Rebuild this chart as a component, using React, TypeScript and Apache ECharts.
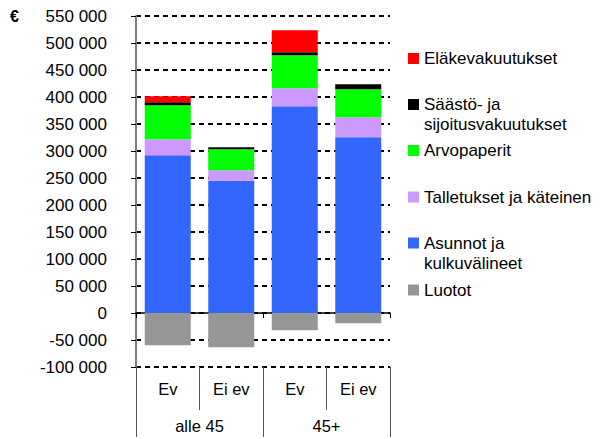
import React, { useEffect, useRef } from "react";
import * as echarts from "echarts";

const barCategories = ["alle 45 Ev", "alle 45 Ei ev", "45+ Ev", "45+ Ei ev"];
const subLabels = ["Ev", "Ei ev", "Ev", "Ei ev"];
const groupLabels = ["alle 45", "45+"];

const asunnot = [292000, 245000, 382700, 325300];
const talletukset = [29600, 19200, 33300, 37000];
const arvopaperit = [63000, 38900, 61100, 51900];
const saasto = [5600, 3700, 5600, 9300];
const elake = [11100, 0, 40700, 0];
const luotot = [-59900, -63600, -32100, -19100];

const FONT = "'Liberation Sans', Arial, sans-serif";

const fmt = (v: number) => {
  const s = String(Math.abs(v)).replace(/\B(?=(\d{3})+(?!\d))/g, " ");
  return (v < 0 ? "-" : "") + s;
};

export default function App() {
  const ref = useRef<HTMLDivElement>(null);
  useEffect(() => {
    if (!ref.current) return;
    const chart = echarts.init(ref.current, null, { renderer: "svg" });
    const seriesDefs = [
      { name: "Asunnot ja kulkuvälineet", data: asunnot, color: "#3366FF" },
      { name: "Talletukset ja käteinen", data: talletukset, color: "#CC99FF" },
      { name: "Arvopaperit", data: arvopaperit, color: "#00FF00" },
      { name: "Säästö- ja sijoitusvakuutukset", data: saasto, color: "#000000" },
      { name: "Eläkevakuutukset", data: elake, color: "#FF0000" },
      { name: "Luotot", data: luotot, color: "#969696" },
    ];
    const legendItems: { name: string; top: number; text: string }[] = [
      { name: "Eläkevakuutukset", top: 48.5, text: "Eläkevakuutukset" },
      { name: "Säästö- ja sijoitusvakuutukset", top: 74.5, text: "\nSäästö- ja\nsijoitusvakuutukset" },
      { name: "Arvopaperit", top: 140.5, text: "Arvopaperit" },
      { name: "Talletukset ja käteinen", top: 187, text: "Talletukset ja käteinen" },
      { name: "Asunnot ja kulkuvälineet", top: 213, text: "\nAsunnot ja\nkulkuvälineet" },
      { name: "Luotot", top: 280, text: "Luotot" },
    ];
    chart.setOption({
      animation: false,
      textStyle: { fontFamily: FONT },
      grid: { left: 136, right: 210, top: 16, bottom: 72 },
      legend: legendItems.map((l) => ({
        data: [l.name],
        left: 408,
        top: l.top,
        padding: 0,
        itemWidth: 11,
        itemHeight: 11,
        icon: "rect",
        selectedMode: false,
        formatter: () => l.text,
        textStyle: { fontSize: 17, color: "#000", fontFamily: FONT, lineHeight: 20 },
      })),
      xAxis: [
        {
          type: "category",
          data: barCategories,
          position: "bottom",
          axisLine: { onZero: true, lineStyle: { color: "#000", width: 1.5 } },
          axisTick: { show: true, length: 5, lineStyle: { color: "#000" } },
          axisLabel: { show: false },
        },
        {
          type: "category",
          data: subLabels,
          position: "bottom",
          axisLine: { show: false, onZero: false },
          axisTick: { show: true, length: 43, lineStyle: { color: "#555", width: 1 } },
          axisLabel: { interval: 0, fontSize: 16.5, color: "#000", margin: 13, fontFamily: FONT },
        },
        {
          type: "category",
          data: groupLabels,
          position: "bottom",
          offset: 43,
          axisLine: { show: false, onZero: false },
          axisTick: { show: true, length: 27, lineStyle: { color: "#555", width: 1 } },
          axisLabel: { interval: 0, fontSize: 16.5, color: "#000", margin: 7, fontFamily: FONT },
        },
      ],
      yAxis: {
        type: "value",
        min: -100000,
        max: 550000,
        interval: 50000,
        axisLine: { show: true, lineStyle: { color: "#808080", width: 2 } },
        axisTick: { show: true, length: 5, lineStyle: { color: "#000" } },
        axisLabel: { formatter: fmt, fontSize: 17, color: "#000", margin: 29, fontFamily: FONT },
        splitLine: { show: true, lineStyle: { color: "#000", width: 2, type: [5, 4] } },
      },
      graphic: [
        {
          type: "text",
          left: 10,
          top: 8,
          style: { text: "€", fontSize: 16, fontWeight: "bold", fill: "#000", fontFamily: FONT },
        },
      ],
      series: seriesDefs.map((s) => ({
        name: s.name,
        type: "bar",
        stack: "total",
        xAxisIndex: 0,
        barWidth: 46,
        data: s.data,
        itemStyle: { color: s.color },
      })),
    });
    return () => chart.dispose();
  }, []);
  return (
    <div
      ref={ref}
      style={{ position: "fixed", left: 0, top: 0, width: 600, height: 439, background: "#fff" }}
    />
  );
}
